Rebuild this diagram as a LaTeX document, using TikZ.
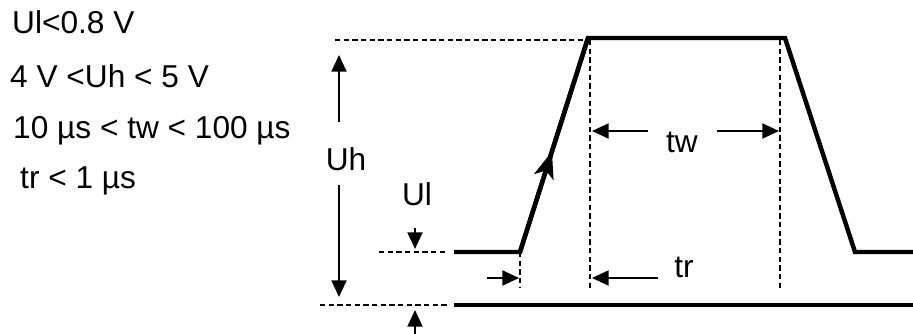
\documentclass[tikz,border=0pt]{standalone}
\usepackage{fontspec}
\setmainfont{Liberation Sans}
\usetikzlibrary{arrows.meta,decorations.markings}

\begin{document}
\begin{tikzpicture}[x=0.03cm,y=-0.03cm,
  font=\fontsize{27}{32}\selectfont,
  pulse/.style={line width=3.8pt,line join=miter},
  guide/.style={line width=1.3pt,dash pattern=on 0.16cm off 0.1cm},
  dimarrow/.style={line width=1.8pt,-{Triangle[length=0.5cm,width=0.45cm]}},
  riseArrow/.style={decoration={markings,
      mark=at position 0.47 with {\arrow{Stealth[length=0.8cm,width=0.6cm,inset=0.2cm]}}},
    postaction=decorate},
  spec/.style={inner sep=0pt,anchor=base west},
  lbl/.style={inner sep=0pt,anchor=base}]
  \useasboundingbox (0,0) rectangle (913,334);
  % key points of the pulse
  \coordinate (lowL) at (454,252);
  \coordinate (riseB) at (520,252);
  \coordinate (riseT) at (588,38);
  \coordinate (fallT) at (785,38);
  \coordinate (fallB) at (855,252);
  \coordinate (lowR) at (913,252);
  \coordinate (baseL) at (454,305);
  \coordinate (baseR) at (913,305);
  \draw[pulse] (lowL) -- (riseB) -- (riseT) -- (fallT) -- (fallB) -- (lowR);
  \draw[pulse,riseArrow] (riseB) -- (riseT);
  \draw[pulse] (baseL) -- (baseR);
  % guide lines
  \coordinate (topG) at (335,40);
  \coordinate (topE) at (588,40);
  \coordinate (ulG) at (379,252);
  \coordinate (ulE) at (448,252);
  \coordinate (baseG) at (320,305);
  \coordinate (baseE) at (448,305);
  \coordinate (vA) at (520,288);
  \coordinate (vB1) at (590,40);
  \coordinate (vB2) at (590,288);
  \coordinate (vC1) at (780,40);
  \coordinate (vC2) at (780,288);
  \draw[guide] (topG) -- (topE);
  \draw[guide] (ulG) -- (ulE);
  \draw[guide] (baseG) -- (baseE);
  \draw[guide] (riseB) -- (vA);
  \draw[guide] (vB1) -- (vB2);
  \draw[guide] (vC1) -- (vC2);
  % labels
  \node[lbl] (uh) at (346,170) {Uh};
  \node[lbl] (ul) at (417,205) {Ul};
  \node[lbl] (tw) at (682,152) {tw};
  \node[lbl] (tr) at (684,277) {tr};
  % dimension arrows
  \coordinate (uhA) at (339,122);
  \coordinate (uhB) at (339,55);
  \coordinate (uhC) at (339,185);
  \coordinate (uhD) at (339,297);
  \coordinate (ulA) at (415,228);
  \coordinate (ulB) at (415,249);
  \coordinate (ulC) at (415,334);
  \coordinate (ulD) at (415,310);
  \coordinate (trA) at (487,278);
  \coordinate (trB) at (519,278);
  \coordinate (trC) at (658,278);
  \coordinate (trD) at (592,278);
  \coordinate (twA) at (648,131);
  \coordinate (twB) at (592,131);
  \coordinate (twC) at (717,131);
  \coordinate (twD) at (779,131);
  \draw[dimarrow] (uhA) -- (uhB);
  \draw[dimarrow] (uhC) -- (uhD);
  \draw[dimarrow] (ulA) -- (ulB);
  \draw[dimarrow] (ulC) -- (ulD);
  \draw[dimarrow] (trA) -- (trB);
  \draw[dimarrow] (trC) -- (trD);
  \draw[dimarrow] (twA) -- (twB);
  \draw[dimarrow] (twC) -- (twD);
  % specification
  \node[spec] (s1) at (12,33) {Ul<0.8 V};
  \node[spec] (s2) at (10,87) {4 V <Uh < 5 V};
  \node[spec] (s3) at (13,138) {10 µs < tw < 100 µs};
  \node[spec] (s4) at (20,188) {tr < 1 µs};
\end{tikzpicture}
\end{document}
